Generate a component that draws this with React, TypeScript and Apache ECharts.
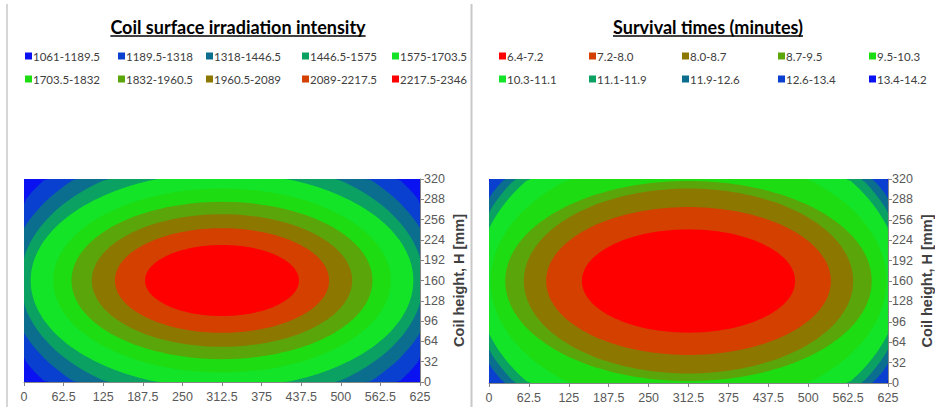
import React, { useEffect, useRef } from "react";
import * as echarts from "echarts";

// ---- axes ----
const X_MIN = 0;
const X_MAX = 625;
const X_STEP = 62.5;
const Y_MIN = 0;
const Y_MAX = 320;
const Y_STEP = 32;
const Y_NAME = "Coil height, H [mm]";

// ---- left panel: irradiation intensity (legend order) ----
const irrTitle = "Coil surface irradiation intensity";
const irrBands = [
  "1061-1189.5", "1189.5-1318", "1318-1446.5", "1446.5-1575", "1575-1703.5",
  "1703.5-1832", "1832-1960.5", "1960.5-2089", "2089-2217.5", "2217.5-2346",
];
const irrColors = [
  "#0a12f2", "#0a40cf", "#0b6e8e", "#0aa163", "#14e428",
  "#1ddc12", "#5aa60a", "#8c7800", "#d34000", "#ff0000",
];
const irrCenter = [312.5, 160];
// outer boundary (semi-axes, mm) of each band; null = fills the rest
const irrRx = [null, 357, 337, 318, 302, 266.5, 237.5, 205.5, 169, 121.5];
const irrRy = [null, 257, 221, 195, 170, 145, 124, 104.5, 82.4, 56];

// ---- right panel: survival times (legend order) ----
const survTitle = "Survival times (minutes)";
const survBands = [
  "6.4-7.2", "7.2-8.0", "8.0-8.7", "8.7-9.5", "9.5-10.3",
  "10.3-11.1", "11.1-11.9", "11.9-12.6", "12.6-13.4", "13.4-14.2",
];
const survColors = [
  "#ff0000", "#d34000", "#8c7800", "#5aa60a", "#1ddc12",
  "#14e428", "#0aa163", "#0b6e8e", "#0a40cf", "#0a12f2",
];
const survCenter = [312.5, 160];
const survRx = [167, 223, 258, 287, 310, 332, 343, 355, 375, null];
const survRy = [81, 116, 145, 157, 200, 244, 262, 275, 290, null];

const FONT = "Lato, 'Open Sans', sans-serif";
const AXIS_FONT = "'Liberation Sans', Arial, sans-serif";

function measure(text: string, font: string): number {
  const c = document.createElement("canvas").getContext("2d");
  if (!c) return text.length * 8;
  c.font = font;
  return c.measureText(text).width;
}

function renderBand(params: any, api: any) {
  const cs = params.coordSys;
  const x0 = cs.x, y0 = cs.y, x1 = cs.x + cs.width, y1 = cs.y + cs.height;
  const color = api.visual("color");
  const rx = api.value(2);
  const ry = api.value(3);
  if (!(rx > 0)) {
    return { type: "rect", shape: { x: x0, y: y0, width: cs.width, height: cs.height }, style: { fill: color } };
  }
  const c = api.coord([api.value(0), api.value(1)]);
  const e = api.coord([api.value(0) + rx, api.value(1) + ry]);
  const prx = Math.abs(e[0] - c[0]);
  const pry = Math.abs(e[1] - c[1]);
  const pts: number[][] = [];
  const N = 180;
  for (let i = 0; i < N; i++) {
    const t = (i / N) * Math.PI * 2;
    let px = c[0] + prx * Math.cos(t);
    let py = c[1] + pry * Math.sin(t);
    px = Math.min(x1, Math.max(x0, px));
    py = Math.min(y1, Math.max(y0, py));
    pts.push([px, py]);
  }
  return { type: "polygon", shape: { points: pts }, style: { fill: color } };
}

function panelSeries(bands: string[], colors: string[], rx: (number | null)[], ry: (number | null)[], center: number[], idx: number) {
  const order = bands.map((_, i) => i).sort((a, b) => {
    const ra = rx[a] == null ? Infinity : (rx[a] as number);
    const rb = rx[b] == null ? Infinity : (rx[b] as number);
    return rb - ra;
  });
  return order.map((i) => ({
    type: "custom",
    name: bands[i],
    xAxisIndex: idx,
    yAxisIndex: idx,
    clip: true,
    color: colors[i],
    itemStyle: { color: colors[i] },
    encode: { x: 0, y: 1 },
    renderItem: renderBand,
    data: [[center[0], center[1], rx[i] == null ? 0 : rx[i], ry[i] == null ? 0 : ry[i]]],
    silent: true,
  }));
}

function panelLegends(bands: string[], cols: number[], rows: number[]) {
  return bands.map((b, i) => ({
    data: [b],
    left: cols[i % 5],
    top: rows[Math.floor(i / 5)] - 7,
    padding: 0,
    itemWidth: 7,
    itemHeight: 7,
    icon: "rect",
    selectedMode: false,
    textStyle: { fontFamily: FONT, fontSize: 11.5, color: "#404040", padding: [0, 0, 0, -4] },
  }));
}

function axisPair(idx: number) {
  const lineColor = "#868686";
  const x = {
    type: "value", gridIndex: idx, min: X_MIN, max: X_MAX, interval: X_STEP,
    axisLine: { show: true, onZero: false, lineStyle: { color: lineColor } },
    axisTick: { show: true, length: 4, lineStyle: { color: lineColor } },
    axisLabel: { color: "#595959", fontSize: 12.5, fontFamily: AXIS_FONT, margin: 8 },
    splitLine: { show: false },
  };
  const y = {
    type: "value", gridIndex: idx, min: Y_MIN, max: Y_MAX, interval: Y_STEP, position: "right",
    axisLine: { show: true, onZero: false, lineStyle: { color: lineColor } },
    axisTick: { show: true, length: 4, lineStyle: { color: lineColor } },
    axisLabel: { color: "#595959", fontSize: 12.5, fontFamily: AXIS_FONT, margin: 4 },
    splitLine: { show: false },
    name: Y_NAME,
    nameLocation: "middle",
    nameRotate: 90,
    nameGap: 31,
    nameTextStyle: { color: "#404040", fontSize: 14.5, fontWeight: "bold", fontFamily: AXIS_FONT },
  };
  return { x, y };
}

function titleGraphics(text: string, cx: number, cy: number) {
  const font = `bold 18px ${FONT}`;
  const w = measure(text, "bold 18px Lato");
  return [
    { type: "text", x: cx, y: cy, style: { text, font, fill: "#000", align: "center", verticalAlign: "middle" }, z: 10 },
    { type: "line", shape: { x1: cx - w / 2, y1: cy + 9, x2: cx + w / 2, y2: cy + 9 }, style: { stroke: "#000", lineWidth: 1.3 }, z: 10 },
  ];
}

function buildOption() {
  const a0 = axisPair(0);
  const a1 = axisPair(1);
  return {
    animation: false,
    backgroundColor: "#ffffff",
    grid: [
      { left: 24, top: 179, width: 396, height: 203 },
      { left: 489, top: 179, width: 401, height: 204 },
    ],
    xAxis: [a0.x, a1.x],
    yAxis: [a0.y, a1.y],
    legend: [
      ...panelLegends(irrBands, [25, 118, 206, 302, 392], [57, 80]),
      ...panelLegends(survBands, [499, 589, 682, 778, 869], [57, 80]),
    ],
    series: [
      ...panelSeries(irrBands, irrColors, irrRx, irrRy, irrCenter, 0),
      ...panelSeries(survBands, survColors, survRx, survRy, survCenter, 1),
    ],
    graphic: [
      { type: "line", shape: { x1: 7, y1: 4, x2: 7, y2: 407 }, style: { stroke: "#c8c8c8", lineWidth: 1.5 } },
      { type: "line", shape: { x1: 471.5, y1: 4, x2: 471.5, y2: 407 }, style: { stroke: "#c8c8c8", lineWidth: 2 } },
      ...titleGraphics(irrTitle, 238, 27),
      ...titleGraphics(survTitle, 708, 27),
    ],
  };
}

export default function App() {
  const ref = useRef<HTMLDivElement>(null);
  useEffect(() => {
    document.body.style.margin = "0";
    const chart = echarts.init(ref.current as HTMLDivElement, null, { renderer: "svg" });
    chart.setOption(buildOption() as any);
    return () => chart.dispose();
  }, []);
  return <div ref={ref} style={{ width: 935, height: 407 }} />;
}
